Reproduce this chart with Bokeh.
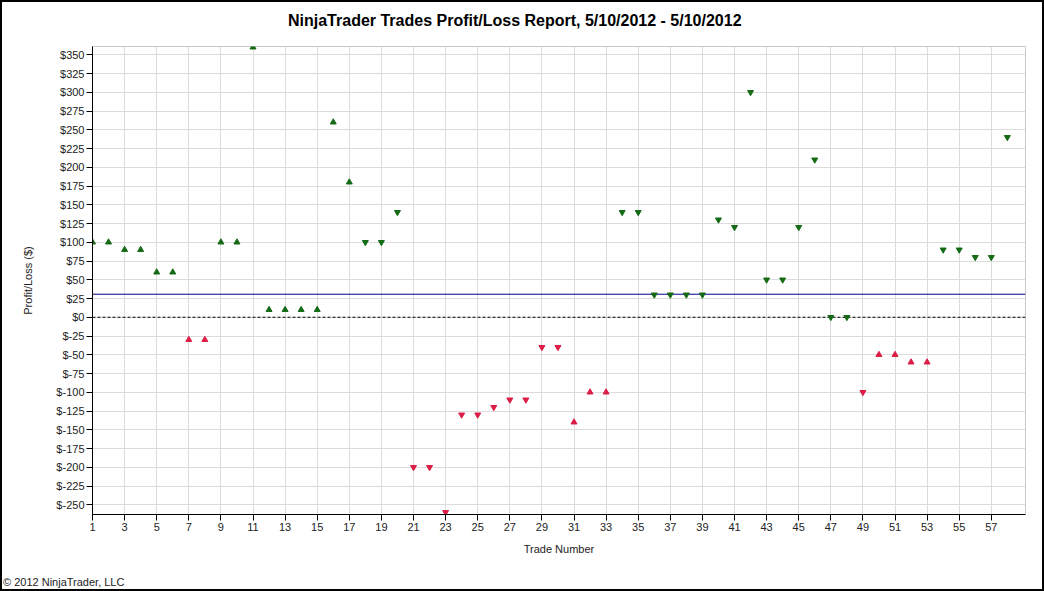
from bokeh.plotting import figure
from bokeh.layouts import column
from bokeh.models import Range1d, FixedTicker, PrintfTickFormatter, Span, Div, ColumnDataSource
from bokeh.embed import file_html
from bokeh.resources import INLINE

# ---- data ----
trade_numbers = [1, 2, 3, 4, 5, 6, 7, 8, 9, 10,
                 11, 12, 13, 14, 15, 16, 17, 18, 19, 20,
                 21, 22, 23, 24, 25, 26, 27, 28, 29, 30,
                 31, 32, 33, 34, 35, 36, 37, 38, 39, 40,
                 41, 42, 43, 44, 45, 46, 47, 48, 49, 50,
                 51, 52, 53, 54, 55, 56, 57, 58]
profit_loss = [100, 100, 90, 90, 60, 60, -30, -30, 100, 100,
               360, 10, 10, 10, 10, 260, 180, 100, 100, 140,
               -200, -200, -260, -130, -130, -120, -110, -110, -40, -40,
               -140, -100, -100, 140, 140, 30, 30, 30, 30, 130,
               120, 300, 50, 50, 120, 210, 0, 0, -100, -50,
               -50, -60, -60, 90, 90, 80, 80, 240]
# L = long (up triangle), S = short (down triangle)
direction = ["L"] * 17 + ["S"] * 13 + ["L"] * 3 + ["S"] * 16 + ["L"] * 4 + ["S"] * 5
x_tick_values = [1, 3, 5, 7, 9, 11, 13, 15, 17, 19, 21, 23, 25, 27, 29,
                 31, 33, 35, 37, 39, 41, 43, 45, 47, 49, 51, 53, 55, 57]
y_tick_values = [-250, -225, -200, -175, -150, -125, -100, -75, -50, -25, 0,
                 25, 50, 75, 100, 125, 150, 175, 200, 225, 250, 275, 300, 325, 350]
title_text = "NinjaTrader Trades Profit/Loss Report, 5/10/2012 - 5/10/2012"
copyright_text = "\u00a9 2012 NinjaTrader, LLC"

GREEN = "#156b15"
RED = "#dc1e46"
FONT = "Liberation Sans"

markers = ["triangle" if d == "L" else "inverted_triangle" for d in direction]
colors = [GREEN if v >= 0 else RED for v in profit_loss]
average = sum(profit_loss) / len(profit_loss)

source = ColumnDataSource(dict(x=trade_numbers, y=profit_loss, marker=markers, color=colors))

p = figure(width=1040, height=526, output_backend="svg", toolbar_location=None,
           x_range=Range1d(1, 59.13), y_range=Range1d(-263, 361),
           min_border_left=90, min_border_right=17, min_border_top=0, min_border_bottom=58)
p.title = None

p.outline_line_color = "#c8c8c8"
p.outline_line_width = 1

for g in p.grid:
    g.grid_line_color = "#dcdcdc"
    g.grid_line_width = 1
p.xgrid.ticker = FixedTicker(ticks=x_tick_values)
p.ygrid.ticker = FixedTicker(ticks=y_tick_values)

p.xaxis.ticker = FixedTicker(ticks=x_tick_values)
p.yaxis.ticker = FixedTicker(ticks=y_tick_values)
p.yaxis.formatter = PrintfTickFormatter(format="$%d")

for ax in (p.xaxis, p.yaxis):
    ax.axis_line_color = "black"
    ax.major_tick_line_color = "black"
    ax.minor_tick_line_color = None
    ax.major_tick_out = 6
    ax.major_tick_in = 0
    ax.major_label_standoff = 2
    ax.major_label_text_font = FONT
    ax.major_label_text_font_size = "11px"
    ax.major_label_text_color = "#222222"
    ax.axis_label_text_font = FONT
    ax.axis_label_text_font_size = "11px"
    ax.axis_label_text_font_style = "normal"
    ax.axis_label_text_color = "#222222"

p.xaxis.axis_label = "Trade Number"
p.xaxis.axis_label_standoff = 9
p.yaxis.axis_label = "Profit/Loss ($)"
p.yaxis.axis_label_standoff = 19

zero_line = Span(location=0, dimension="width", line_color="black",
                 line_dash="3 2", line_width=1, level="underlay")
avg_line = Span(location=average, dimension="width", line_color="#00008b",
                line_width=1, level="underlay")
p.add_layout(zero_line)
p.add_layout(avg_line)

p.scatter(x="x", y="y", marker="marker", fill_color="color", line_color="color",
          size=6, source=source)

title_div = Div(
    text=('<div style="padding:9px 0 0 286px; margin:0; line-height:19px; '
          'font-family:\'Liberation Sans\'; font-size:16px; font-weight:bold; '
          'color:#000; white-space:nowrap;">' + title_text + '</div>'),
    width=1040, height=44, margin=0)

footer_div = Div(
    text=('<div style="padding:2px 0 0 1px; margin:0; line-height:17px; '
          'font-family:\'Liberation Sans\'; font-size:11px; '
          'color:#222; white-space:nowrap;">' + copyright_text + '</div>'),
    width=1040, height=17, margin=0)

page = column(title_div, p, footer_div, spacing=0,
              styles={"border": "2px solid black", "background": "white"})

open("out.html", "w").write(file_html(page, INLINE))
